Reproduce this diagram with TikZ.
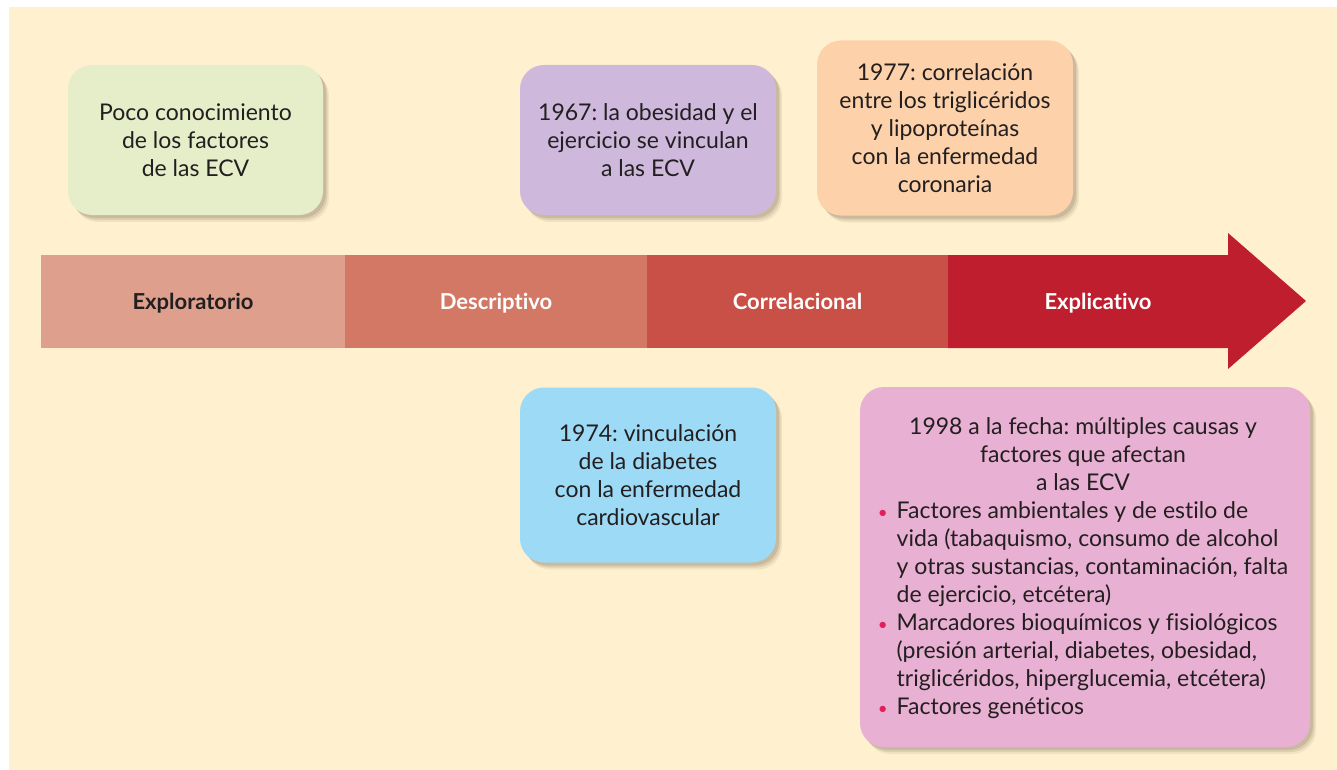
\documentclass[tikz,border=0pt]{standalone}
\usepackage{fontspec}
\setmainfont{Lato}[Ligatures={NoCommon}]
\usetikzlibrary{shadows}
\definecolor{cream}{RGB}{255,240,207}
\definecolor{txt}{RGB}{35,31,32}
\definecolor{segA}{RGB}{222,159,141}
\definecolor{segB}{RGB}{210,120,101}
\definecolor{segC}{RGB}{200,80,70}
\definecolor{segD}{RGB}{190,30,46}
\definecolor{boxgreen}{RGB}{229,237,201}
\definecolor{boxpurple}{RGB}{206,184,220}
\definecolor{boxorange}{RGB}{253,210,170}
\definecolor{boxblue}{RGB}{157,218,246}
\definecolor{boxpink}{RGB}{232,176,210}
\definecolor{bul}{RGB}{228,30,90}
\definecolor{shadowc}{RGB}{120,105,80}
\frenchspacing
\begin{document}
\begin{tikzpicture}[x=1pt,y=-1pt,
  card/.style={rounded corners=24pt, inner sep=0pt, align=center, text=txt,
    font=\fontsize{23}{28}\selectfont,
    drop shadow={shadow xshift=6pt, shadow yshift=-7pt, fill=shadowc, opacity=0.10},
    drop shadow={shadow xshift=4.5pt, shadow yshift=-5pt, fill=shadowc, opacity=0.15},
    drop shadow={shadow xshift=3pt, shadow yshift=-3pt, fill=shadowc, opacity=0.2}},
  seg/.style={inner sep=0pt, minimum height=93pt, text height=16pt, text depth=0pt,
    font=\fontsize{22}{24}\selectfont\bfseries},
  seglabel/.style={inner sep=0pt, text height=16pt, text depth=0pt,
    font=\fontsize{22}{24}\selectfont\bfseries}]
\useasboundingbox (0,0) rectangle (1337,770);
\fill[white] (0,0) rectangle (1337,770);
\fill[cream] (9,7) rectangle (1337,770);

% timeline bar
\node[seg, fill=segA, text=txt, minimum width=304pt] (s1) at (193,301.5) {Exploratorio};
\node[seg, fill=segB, text=white, minimum width=302pt] (s2) at (496,301.5) {Descriptivo};
\node[seg, fill=segC, text=white, minimum width=301pt] (s3) at (797.5,301.5) {Correlacional};
\fill[segD] (948,255) -- (1228,255) -- (1228,233) -- (1306,301) -- (1228,369) -- (1228,348) -- (948,348) -- cycle;
\node[seglabel, text=white] (s4) at (1098,301.5) {Explicativo};

% cards
\node[card, fill=boxgreen, minimum width=255pt, minimum height=150pt] (b1) at (195.5,140)
  {Poco conocimiento\\de los factores\\de las ECV};
\node[card, fill=boxpurple, minimum width=256pt, minimum height=150pt] (b2) at (648,140)
  {1967: la obesidad y el\\ejercicio se vinculan\\a las ECV};
\node[card, fill=boxorange, minimum width=256pt, minimum height=175pt] (b3) at (945,128)
  {1977: correlación\\entre los triglicéridos\\y lipoproteínas\\con la enfermedad\\coronaria};
\node[card, fill=boxblue, minimum width=256pt, minimum height=175pt] (b4) at (648,475)
  {1974: vinculación\\de la diabetes\\con la enfermedad\\cardiovascular};
\node[card, fill=boxpink, minimum width=450pt, minimum height=360pt] (b5) at (1085,567) {};
\node[inner sep=0pt, text=txt, font=\fontsize{23}{28}\selectfont] (t5) at (1083,569) {%
  \begin{tabular}{@{}c@{\hspace{9pt}}l@{}}
  \multicolumn{2}{c}{1998 a la fecha: múltiples causas y}\\
  \multicolumn{2}{c}{factores que afectan}\\
  \multicolumn{2}{c}{a las ECV}\\
  \textcolor{bul}{\fontsize{17}{28}\selectfont•} & Factores ambientales y de estilo de\\
   & vida (tabaquismo, consumo de alcohol\\
   & y otras sustancias, contaminación, falta\\
   & de ejercicio, etcétera)\\
  \textcolor{bul}{\fontsize{17}{28}\selectfont•} & Marcadores bioquímicos y fisiológicos\\
   & (presión arterial, diabetes, obesidad,\\
   & triglicéridos, hiperglucemia, etcétera)\\
  \textcolor{bul}{\fontsize{17}{28}\selectfont•} & Factores genéticos
  \end{tabular}};
\end{tikzpicture}
\end{document}
